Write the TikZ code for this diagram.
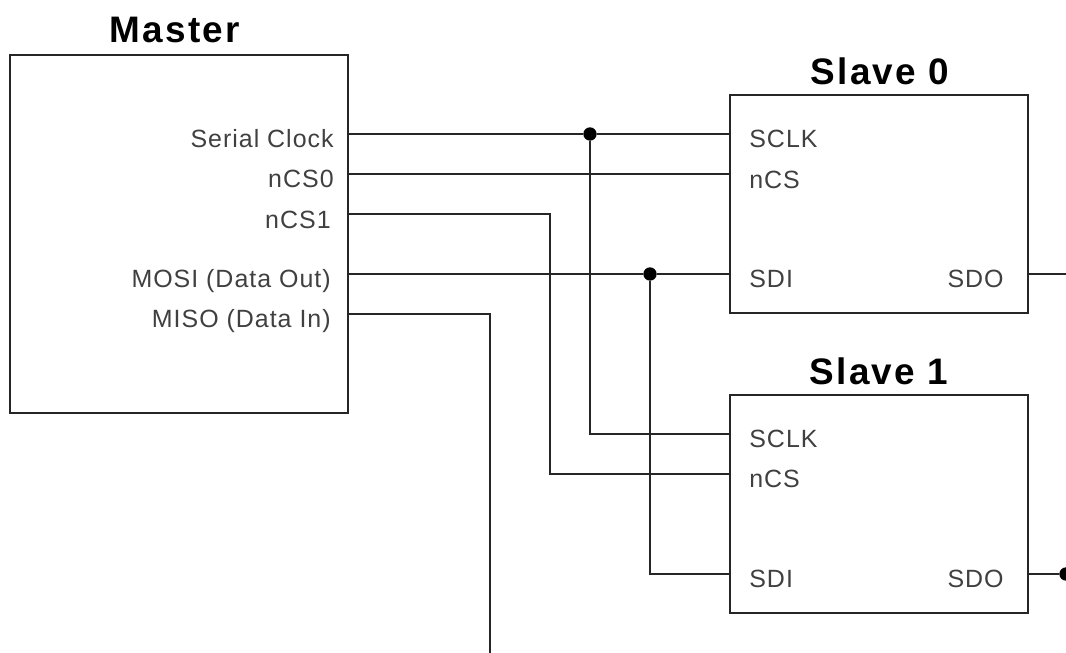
\documentclass[tikz,border=0pt]{standalone}
\usepackage{fontspec}
\setmainfont{Liberation Sans}
\tikzset{
    chipbox/.style={draw=black!85, line width=1.05pt, fill=white},
    wire/.style={draw=black!85, line width=1.05pt},
    pinlabel/.style={inner sep=0pt, text=black!75, font=\fontsize{14.2}{16}\selectfont\addfontfeatures{LetterSpace=4}},
    chiptitle/.style={inner sep=0pt, font=\fontsize{21}{24}\selectfont\bfseries\addfontfeatures{LetterSpace=6}},
    joint/.style={circle, fill=black, inner sep=0pt, minimum size=7.6pt}
}
\begin{document}
\begin{tikzpicture}[x=0.02cm, y=-0.02cm]
    \clip (0,0) rectangle (1066,653);
    \useasboundingbox (0,0) rectangle (1066,653);
    \fill[white] (0,0) rectangle (1066,653);

    % boxes
    \draw[chipbox] (10,55) rectangle (348,413);
    \draw[chipbox] (730,95) rectangle (1028,313);
    \draw[chipbox] (730,395) rectangle (1028,613);

    % titles
    \node[chiptitle] (master) at (175,30) {Master};
    \node[chiptitle] (slave0) at (880,71) {Slave 0};
    \node[chiptitle] (slave1) at (879,371) {Slave 1};

    % master pins
    \node[pinlabel, anchor=east] (sclk) at (334,139) {Serial Clock};
    \node[pinlabel, anchor=east] (ncs0) at (334,179) {nCS0};
    \node[pinlabel, anchor=east] (ncs1) at (331,220) {nCS1};
    \node[pinlabel, anchor=east] (mosi) at (331,281) {MOSI (Data Out)};
    \node[pinlabel, anchor=east] (miso) at (331,321) {MISO (Data In)};

    % slave 0 pins
    \node[pinlabel, anchor=west] (sclka) at (749,139) {SCLK};
    \node[pinlabel, anchor=west] (ncsa) at (749,180) {nCS};
    \node[pinlabel, anchor=west] (sdia) at (749,279) {SDI};
    \node[pinlabel, anchor=east] (sdoa) at (1004,279) {SDO};

    % slave 1 pins
    \node[pinlabel, anchor=west] (sclkb) at (749,439) {SCLK};
    \node[pinlabel, anchor=west] (ncsb) at (749,479) {nCS};
    \node[pinlabel, anchor=west] (sdib) at (749,579) {SDI};
    \node[pinlabel, anchor=east] (sdob) at (1004,579) {SDO};

    % wire ends on the boxes
    \coordinate (msclk) at (348,134);
    \coordinate (mncs0) at (348,174);
    \coordinate (mncs1) at (348,214);
    \coordinate (mmosi) at (348,274);
    \coordinate (mmiso) at (348,314);
    \coordinate (asclk) at (730,134);
    \coordinate (ancs) at (730,174);
    \coordinate (asdi) at (730,274);
    \coordinate (asdo) at (1028,274);
    \coordinate (bsclk) at (730,434);
    \coordinate (bncs) at (730,474);
    \coordinate (bsdi) at (730,574);
    \coordinate (bsdo) at (1028,574);
    \coordinate (aout) at (1066,274);
    \coordinate (mout) at (490,653);

    % joints
    \node[joint] (jclk) at (590,134) {};
    \node[joint] (jsdi) at (650,274) {};
    \node[joint] (jout) at (1066,574) {};

    % wires
    \draw[wire] (msclk) -- (jclk) -- (asclk);
    \draw[wire] (mncs0) -- (ancs);
    \draw[wire] (mmosi) -- (jsdi) -- (asdi);
    \draw[wire] (jclk) |- (bsclk);
    \draw[wire] (jsdi) |- (bsdi);
    \draw[wire] (mncs1) -| (550,474) -- (bncs);
    \draw[wire] (mmiso) -| (mout);
    \draw[wire] (asdo) -- (aout);
    \draw[wire] (bsdo) -- (jout);
\end{tikzpicture}
\end{document}
